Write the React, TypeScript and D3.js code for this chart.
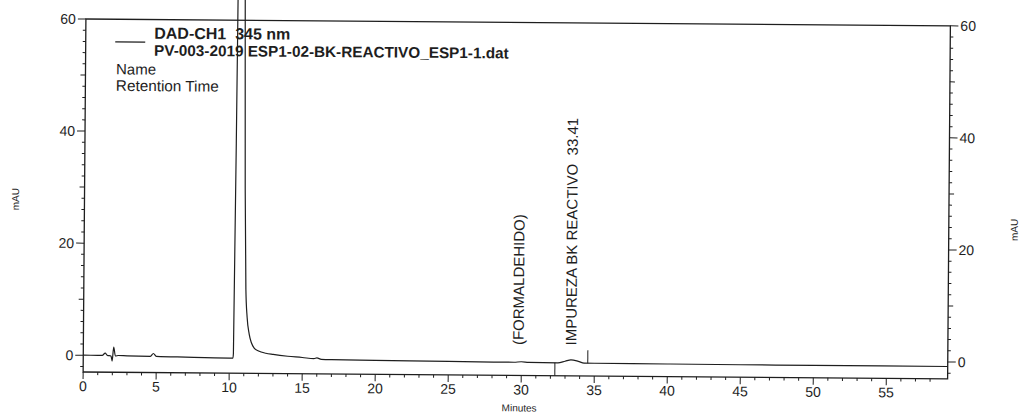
import * as d3 from 'd3';

// chromatogram trace (minutes / mAU)
const timeMin = [
  0, 1.0, 1.3, 1.5, 1.65, 1.9, 1.98, 2.08, 2.2, 2.4, 3, 4.6, 4.8, 5.0, 7, 10, 10.25, 10.28, 10.41, 10.6,
  10.9, 11.0, 11.1, 11.2, 11.35, 11.5, 11.7, 12.0, 12.5, 13, 14, 15, 15.8, 16.0, 16.3, 17, 20, 25, 29.5, 30,
  30.5, 32.5, 33.0, 33.4, 33.9, 34.3, 35, 40, 45, 50, 59.2,
];
const signalMAU = [
  0, 0, 0, 0.4, 0, -0.1, -1.0, 1.5, -0.1, 0, -0.05, -0.1, 0.4, -0.1, -0.2, -0.3, -0.3, 0.5, 64, 150,
  64, 30, 12, 7, 4, 2.5, 1.5, 1.0, 0.6, 0.4, 0.1, -0.1, -0.3, -0.15, -0.4, -0.45, -0.5, -0.6, -0.65, -0.55,
  -0.65, -0.7, -0.4, -0.15, -0.4, -0.7, -0.72, -0.75, -0.78, -0.8, -0.8,
];

// integration markers (time, direction: -1 below baseline, 1 above)
const markerTimes = [32.3, 34.55];
const markerDirs = [-1, 1];

// peak name labels
const peakLabelTimes = [29.8, 33.41];
const peakLabels = ['(FORMALDEHIDO)', 'IMPUREZA BK REACTIVO  33.41'];

const xTickLabels = [0, 5, 10, 15, 20, 25, 30, 35, 40, 45, 50, 55];
const yTickLabels = [0, 20, 40, 60];

const X_DOMAIN: [number, number] = [0, 59.2];
const Y_DOMAIN: [number, number] = [-3, 60];

const W = 1023;
const H = 420;
const PLOT = { left: 84.5, right: 949, top: 22.4, bottom: 375.4 };
const INK = '#1e1e1e';
const FONT = '"Liberation Sans", Arial, sans-serif';

export default function App() {
  const x = d3.scaleLinear().domain(X_DOMAIN).range([PLOT.left, PLOT.right]);
  const y = d3.scaleLinear().domain(Y_DOMAIN).range([PLOT.bottom, PLOT.top]);

  const line = d3
    .line<number>()
    .x((_, i) => x(timeMin[i]))
    .y((d) => y(d))
    .curve(d3.curveMonotoneX);

  const xMinor = d3.range(1, 59, 1).filter((t) => t % 5 !== 0);
  const yMinor = d3.range(-2, 60, 2).filter((v) => v % 20 !== 0);

  const baselineAt = (t: number) => {
    const i = d3.bisectLeft(timeMin, t);
    return signalMAU[Math.min(i, signalMAU.length - 1)];
  };

  return (
    <div style={{ position: 'absolute', left: 0, top: 0 }}>
      <svg width={W} height={H} style={{ display: 'block', background: '#fff' }} fontFamily={FONT}>
        <g transform="rotate(0.45, 515, 200)">
          {/* frame */}
          <rect
            x={PLOT.left}
            y={PLOT.top}
            width={PLOT.right - PLOT.left}
            height={PLOT.bottom - PLOT.top}
            fill="none"
            stroke={INK}
            strokeWidth={1.3}
          />

          {/* left axis */}
          {yMinor.map((v) => (
            <line
              key={`ylm${v}`}
              x1={PLOT.left}
              x2={PLOT.left - (v % 10 === 0 ? 5 : 3)}
              y1={y(v)}
              y2={y(v)}
              stroke={INK}
            />
          ))}
          {yTickLabels.map((v) => (
            <g key={`yl${v}`}>
              <line x1={PLOT.left} x2={PLOT.left - 8} y1={y(v)} y2={y(v)} stroke={INK} />
              <text x={PLOT.left - 10} y={y(v)} dy="0.35em" textAnchor="end" fontSize={14} fill={INK}>
                {v}
              </text>
            </g>
          ))}

          {/* right axis */}
          {yMinor.map((v) => (
            <line
              key={`yrm${v}`}
              x1={PLOT.right}
              x2={PLOT.right + (v % 10 === 0 ? 5 : 3)}
              y1={y(v)}
              y2={y(v)}
              stroke={INK}
            />
          ))}
          {yTickLabels.map((v) => (
            <g key={`yr${v}`}>
              <line x1={PLOT.right} x2={PLOT.right + 8} y1={y(v)} y2={y(v)} stroke={INK} />
              <text x={PLOT.right + 10} y={y(v)} dy="0.35em" textAnchor="start" fontSize={14} fill={INK}>
                {v}
              </text>
            </g>
          ))}

          {/* bottom axis */}
          {xMinor.map((t) => (
            <line key={`xm${t}`} x1={x(t)} x2={x(t)} y1={PLOT.bottom} y2={PLOT.bottom + 3} stroke={INK} />
          ))}
          {xTickLabels.map((t) => (
            <g key={`x${t}`}>
              <line x1={x(t)} x2={x(t)} y1={PLOT.bottom} y2={PLOT.bottom + 7} stroke={INK} />
              <text x={x(t)} y={PLOT.bottom + 19} textAnchor="middle" fontSize={14} fill={INK}>
                {t}
              </text>
            </g>
          ))}
          <text x={(PLOT.left + PLOT.right) / 2 + 4} y={PLOT.bottom + 36} textAnchor="middle" fontSize={10} fill={INK}>
            Minutes
          </text>

          {/* axis titles */}
          <text transform={`translate(19, 203) rotate(-90)`} textAnchor="middle" fontSize={10} fill={INK}>
            mAU
          </text>
          <text transform={`translate(1018, 226) rotate(-90)`} textAnchor="middle" fontSize={10} fill={INK}>
            mAU
          </text>

          {/* trace */}
          <path d={line(signalMAU) ?? ''} fill="none" stroke={INK} strokeWidth={1.2} />

          {/* integration markers */}
          {markerTimes.map((t, i) => {
            const y0 = y(baselineAt(t));
            return (
              <line
                key={`mk${t}`}
                x1={x(t)}
                x2={x(t)}
                y1={y0}
                y2={y0 - markerDirs[i] * 13}
                stroke={INK}
                strokeWidth={1}
              />
            );
          })}

          {/* peak labels */}
          {peakLabels.map((label, i) => (
            <text
              key={label}
              transform={`translate(${x(peakLabelTimes[i]) + 5}, 345) rotate(-90)`}
              fontSize={15}
              fill={INK}
              style={{ whiteSpace: 'pre' }}
            >
              {label}
            </text>
          ))}

          {/* legend */}
          <line x1={114} x2={144} y1={45} y2={45} stroke={INK} strokeWidth={1.2} />
          <text x={153} y={41.5} fontSize={16} fontWeight="bold" fill={INK} style={{ whiteSpace: 'pre' }}>
            {'DAD-CH1  345 nm'}
          </text>
          <text x={153} y={58.5} fontSize={15.3} fontWeight="bold" fill={INK}>
            PV-003-2019 ESP1-02-BK-REACTIVO_ESP1-1.dat
          </text>
          <text x={115} y={77.5} fontSize={15} fill={INK}>
            Name
          </text>
          <text x={115} y={94} fontSize={15.3} fill={INK}>
            Retention Time
          </text>
        </g>
      </svg>
    </div>
  );
}
